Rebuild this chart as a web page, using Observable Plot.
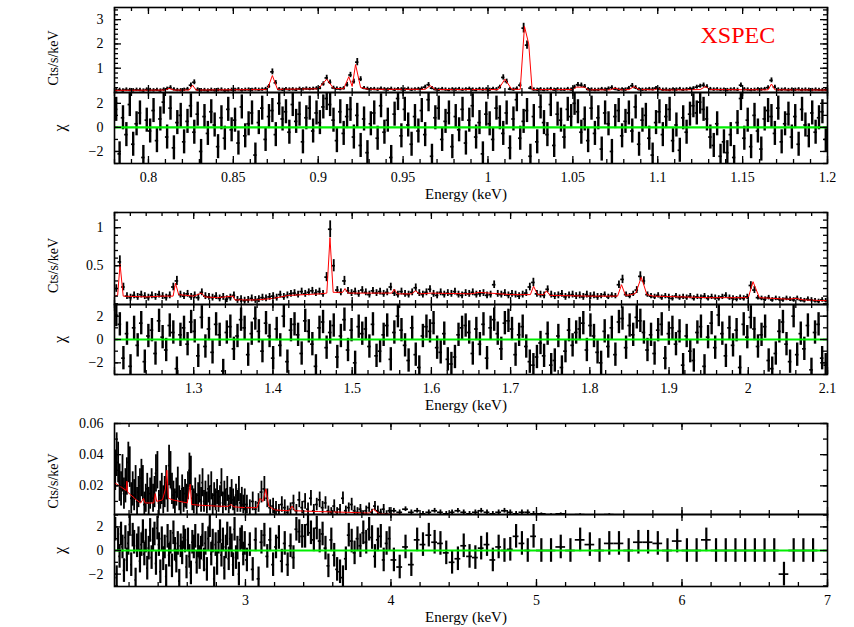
<!DOCTYPE html>
<html><head><meta charset="utf-8">
<script src="https://cdn.jsdelivr.net/npm/d3@7"></script>
<script src="https://cdn.jsdelivr.net/npm/@observablehq/plot@0.6"></script>
<style>
body{margin:0;background:#fff;}
#chart{position:relative;width:854px;height:627px;overflow:hidden;background:#fff;font-family:'Liberation Serif','Times New Roman',serif;}
#chart svg{position:absolute;left:0;}
</style></head><body><div id="chart"></div>
<script>
// ---------------- DATA ----------------
// Panel 1: 0.78–1.20 keV, bins of 0.002 keV
const p1Bin = {start: 0.78, width: 0.002};
const p1Counts = [
 .09,.11,.08,.12,.10,.09,.11,.10,.08,.12,
 .10,.09,.11,.08,.12,.15,.20,.13,.10,.09,
 .11,.14,.30,.42,.12,.09,.10,.08,.11,.09,
 .10,.12,.08,.09,.11,.10,.13,.09,.11,.12,
 .10,.13,.11,.12,.14,.25,.85,.40,.13,.11,
 .14,.12,.13,.11,.15,.13,.16,.14,.15,.17,
 .18,.35,.60,.42,.19,.16,.14,.17,.32,.72,
 .45,1.25,.55,.18,.15,.13,.14,.12,.16,.13,
 .12,.15,.11,.14,.13,.12,.15,.11,.13,.14,
 .16,.22,.32,.18,.13,.11,.14,.12,.10,.13,
 .12,.14,.11,.13,.15,.12,.10,.14,.12,.13,
 .11,.15,.13,.22,.62,.45,.14,.12,.16,.30,
 2.65,1.95,.18,.12,.11,.13,.10,.12,.14,.11,
 .13,.12,.11,.14,.12,.22,.32,.30,.25,.13,
 .12,.10,.11,.14,.12,.16,.20,.14,.11,.13,
 .12,.18,.28,.20,.13,.11,.12,.14,.13,.18,
 .14,.11,.12,.10,.13,.12,.14,.11,.13,.15,
 .17,.22,.26,.30,.24,.14,.12,.13,.11,.12,
 .10,.12,.13,.11,.30,.13,.12,.10,.11,.13,
 .12,.14,.20,.50,.22,.12,.11,.13,.10,.12,
 .11,.13,.10,.12,.11,.10,.12,.11,.10,.11];
const p1Err = [
 .07,.07,.07,.07,.07,.07,.07,.07,.07,.07,
 .07,.07,.07,.07,.07,.07,.08,.07,.07,.07,
 .07,.07,.09,.10,.07,.07,.07,.07,.07,.07,
 .07,.07,.07,.07,.07,.07,.07,.07,.07,.07,
 .07,.07,.07,.07,.07,.08,.12,.09,.07,.07,
 .07,.07,.07,.07,.07,.07,.07,.07,.07,.07,
 .07,.09,.11,.09,.07,.07,.07,.07,.09,.11,
 .10,.15,.10,.07,.07,.07,.07,.07,.07,.07,
 .07,.07,.07,.07,.07,.07,.07,.07,.07,.07,
 .07,.08,.09,.07,.07,.07,.07,.07,.07,.07,
 .07,.07,.07,.07,.07,.07,.07,.07,.07,.07,
 .07,.07,.07,.08,.11,.10,.07,.07,.07,.09,
 .20,.17,.07,.07,.07,.07,.07,.07,.07,.07,
 .07,.07,.07,.07,.07,.08,.09,.09,.08,.07,
 .07,.07,.07,.07,.07,.07,.08,.07,.07,.07,
 .07,.07,.09,.08,.07,.07,.07,.07,.07,.07,
 .07,.07,.07,.07,.07,.07,.07,.07,.07,.07,
 .07,.08,.08,.09,.08,.07,.07,.07,.07,.07,
 .07,.07,.07,.07,.09,.07,.07,.07,.07,.07,
 .07,.07,.08,.10,.08,.07,.07,.07,.07,.07,
 .07,.07,.07,.07,.07,.07,.07,.07,.07,.07];
const p1Chi = [
 1.5,-2.2,0.8,-0.6,1.9,-1.4,0.3,1.2,-2.5,0.6,
 -0.3,1.4,-1.1,0.7,2.1,-0.8,1.6,-1.7,0.4,1.0,
 -1.2,0.5,1.8,-0.4,1.1,-2.0,0.9,-0.5,1.3,0.2,
 -1.6,0.8,-0.9,1.5,-0.2,0.6,-1.3,1.7,-0.7,0.3,
 1.2,-2.3,0.4,1.6,-1.0,0.9,1.4,-0.6,2.0,0.7,
 1.3,-0.4,1.9,0.5,1.1,-1.2,0.8,1.6,-0.3,1.2,
 0.4,1.7,2.4,1.9,0.6,-1.1,1.3,-0.5,0.9,1.5,
 -0.8,1.0,-1.5,0.7,-2.1,0.3,1.2,-0.9,1.8,-0.4,
 0.6,-2.5,1.1,2.4,-0.7,1.5,0.2,-1.4,0.9,-0.3,
 1.4,-0.6,2.3,-2.4,0.8,1.6,-1.0,0.5,1.2,-1.6,
 0.9,-0.2,1.5,-1.3,0.6,1.8,-0.8,0.4,-2.2,1.1,
 0.3,-1.0,1.6,0.8,-0.5,1.2,-1.7,0.7,2.3,-0.9,
 0.5,1.4,-2.4,0.9,-1.2,1.7,0.4,-0.6,1.9,-1.5,
 1.1,0.6,-0.8,1.5,0.9,2.0,1.3,-0.4,0.7,-1.1,
 1.6,-0.5,0.8,-1.8,1.2,0.3,-2.0,0.9,1.4,-0.7,
 0.5,1.2,-0.3,1.7,-1.4,0.6,1.0,-0.9,-2.3,0.4,
 1.3,-0.6,0.9,1.5,-1.1,0.2,-1.9,0.8,-0.4,1.1,
 1.8,1.2,2.1,1.5,0.7,-0.8,-1.5,0.3,-2.4,-1.2,
 -2.1,-0.6,-2.5,0.4,2.4,-0.9,0.6,-1.6,1.0,-0.3,
 -1.8,0.7,1.4,0.9,-0.5,1.6,-1.2,0.3,1.1,-0.8,
 0.9,-1.4,1.5,0.2,-0.7,1.2,-0.4,0.8,1.3,-1.0];
const p1Model = [[0.78,0.09],[0.81,0.10],[0.812,0.17],[0.815,0.10],[0.824,0.10],[0.826,0.30],[0.828,0.10],
 [0.87,0.12],[0.873,0.70],[0.876,0.13],[0.90,0.15],[0.905,0.55],[0.909,0.17],[0.915,0.15],[0.918,0.65],
 [0.92,0.25],[0.922,1.15],[0.925,0.20],[0.93,0.13],[0.963,0.13],[0.966,0.28],[0.969,0.12],[1.006,0.12],
 [1.01,0.55],[1.014,0.13],[1.019,0.13],[1.0215,2.72],[1.024,2.0],[1.026,0.12],[1.05,0.12],[1.052,0.22],
 [1.057,0.22],[1.059,0.11],[1.072,0.11],[1.075,0.18],[1.078,0.11],[1.083,0.12],[1.086,0.24],[1.089,0.12],
 [1.098,0.11],[1.10,0.16],[1.103,0.10],[1.125,0.12],[1.128,0.24],[1.131,0.12],[1.165,0.11],[1.167,0.35],
 [1.169,0.11],[1.20,0.10]];

// Panel 2: 1.20–2.10 keV, bins of 0.0045 keV
const p2Bin = {start: 1.2, width: 0.0045};
const p2Counts = [
 .20,.55,.22,.10,.08,.11,.09,.12,.10,.08,
 .11,.09,.12,.10,.08,.11,.22,.30,.12,.10,
 .13,.09,.11,.08,.15,.10,.09,.08,.10,.07,
 .09,.06,.08,.11,.05,.06,.04,.05,.07,.05,
 .06,.08,.07,.09,.10,.08,.12,.09,.11,.13,
 .14,.12,.16,.13,.15,.17,.14,.16,.13,.35,
 .98,.50,.18,.15,.30,.17,.14,.16,.13,.18,
 .15,.12,.17,.14,.16,.13,.15,.22,.14,.12,
 .16,.13,.12,.15,.21,.14,.12,.15,.19,.13,
 .11,.15,.12,.14,.13,.16,.12,.11,.14,.13,
 .15,.12,.13,.14,.11,.12,.25,.13,.12,.14,
 .11,.13,.12,.10,.12,.14,.22,.28,.13,.12,
 .11,.19,.12,.10,.11,.13,.09,.11,.12,.10,
 .11,.09,.12,.10,.11,.09,.10,.12,.09,.11,
 .10,.25,.32,.12,.10,.13,.18,.36,.30,.12,
 .10,.09,.11,.08,.10,.09,.07,.10,.08,.09,
 .08,.10,.07,.09,.08,.10,.07,.09,.08,.07,
 .09,.11,.08,.07,.06,.08,.07,.09,.24,.18,
 .08,.07,.06,.08,.05,.07,.06,.05,.07,.06,
 .05,.07,.05,.04,.06,.05,.04,.03,.05,.04];
const p2Err = [
 .05,.08,.05,.045,.045,.045,.045,.045,.045,.045,
 .045,.045,.045,.045,.045,.045,.05,.06,.045,.045,
 .045,.045,.045,.045,.045,.045,.045,.045,.045,.045,
 .045,.045,.045,.045,.045,.045,.045,.045,.045,.045,
 .045,.045,.045,.045,.045,.045,.045,.045,.045,.045,
 .045,.045,.045,.045,.045,.045,.045,.045,.045,.06,
 .11,.08,.045,.045,.06,.045,.045,.045,.045,.045,
 .045,.045,.045,.045,.045,.045,.045,.05,.045,.045,
 .045,.045,.045,.045,.05,.045,.045,.045,.045,.045,
 .045,.045,.045,.045,.045,.045,.045,.045,.045,.045,
 .045,.045,.045,.045,.045,.045,.05,.045,.045,.045,
 .045,.045,.045,.045,.045,.045,.05,.055,.045,.045,
 .045,.045,.045,.045,.045,.045,.045,.045,.045,.045,
 .045,.045,.045,.045,.045,.045,.035,.035,.035,.035,
 .035,.05,.055,.035,.035,.035,.045,.06,.055,.035,
 .035,.035,.035,.035,.035,.035,.035,.035,.035,.035,
 .035,.035,.035,.035,.035,.035,.035,.035,.035,.035,
 .035,.035,.035,.035,.035,.035,.035,.035,.05,.045,
 .03,.03,.03,.03,.03,.03,.03,.03,.03,.03,
 .03,.03,.03,.03,.03,.03,.03,.03,.03,.03];
const p2Chi = [
 2.1,1.3,-1.6,0.5,-2.3,1.0,-0.5,1.4,-1.9,0.3,
 0.8,-1.2,1.6,0.2,-0.9,1.2,0.6,-2.5,0.4,1.0,
 -0.4,1.5,0.7,-1.4,1.9,-0.6,0.9,-1.1,1.3,0.4,
 -2.7,0.6,1.1,-0.8,0.3,1.7,1.0,-1.3,0.5,1.8,
 0.7,-1.0,1.4,0.3,-1.6,0.9,-0.5,2.0,-1.9,0.8,
 1.3,0.4,-1.2,1.6,0.7,-0.4,-2.3,1.0,1.5,-0.7,
 0.6,1.2,-1.5,0.3,1.7,-0.9,0.8,-2.0,1.1,0.5,
 0.9,-0.6,1.3,-1.4,-1.0,0.4,1.2,-1.7,0.6,2.0,
 0.8,-0.5,-1.8,1.0,-1.3,-2.4,0.3,1.1,0.7,1.4,
 -0.7,-1.1,0.5,-1.7,-2.1,-1.5,0.4,1.0,1.2,0.6,
 -1.2,0.9,-0.4,1.3,-1.6,1.0,1.7,0.5,-0.8,1.4,
 1.6,0.9,-1.3,0.4,1.1,-0.6,-1.9,-2.2,-1.5,-0.3,
 -1.4,0.5,-2.2,-1.8,0.3,-2.4,-1.0,0.8,-0.5,0.6,
 0.9,1.4,-0.9,1.2,0.3,-1.1,-2.0,0.7,-0.6,1.0,
 -1.3,1.5,1.8,-0.7,1.2,0.4,1.9,1.6,0.6,-0.9,
 0.4,-1.2,0.8,1.3,-1.6,0.5,1.0,-0.4,0.7,-2.2,
 0.3,-1.0,-1.8,0.6,1.1,-2.3,0.2,1.4,-0.7,2.1,
 0.5,-1.4,1.0,-0.5,0.8,-2.4,1.3,0.2,1.9,0.9,
 -0.6,0.4,1.1,-1.8,-2.5,-1.2,0.7,1.5,-0.4,-1.9,
 2.0,-1.3,0.5,-0.8,1.2,-2.6,0.6,1.3,-1.6,-2.2];
const p2Model = [[1.2,0.10],[1.204,0.11],[1.207,0.52],[1.211,0.10],[1.24,0.09],[1.26,0.10],[1.274,0.10],
 [1.277,0.27],[1.281,0.12],[1.30,0.10],[1.31,0.14],[1.314,0.09],[1.33,0.08],[1.35,0.10],[1.352,0.05],
 [1.38,0.05],[1.40,0.07],[1.42,0.11],[1.44,0.12],[1.46,0.13],[1.468,0.14],[1.472,0.87],[1.476,0.15],
 [1.488,0.15],[1.491,0.20],[1.495,0.14],[1.55,0.14],[1.553,0.19],[1.557,0.13],[1.575,0.13],[1.58,0.17],
 [1.585,0.13],[1.60,0.14],[1.65,0.13],[1.66,0.15],[1.70,0.12],[1.725,0.12],[1.729,0.23],[1.734,0.12],
 [1.742,0.12],[1.745,0.17],[1.75,0.11],[1.80,0.10],[1.835,0.10],[1.84,0.25],[1.845,0.11],[1.853,0.12],
 [1.858,0.14],[1.865,0.35],[1.872,0.12],[1.88,0.10],[1.95,0.08],[2.0,0.08],[2.006,0.29],[2.014,0.08],
 [2.05,0.06],[2.06,0.07],[2.07,0.05],[2.10,0.04]];

// Panel 3: 2.1–7 keV, grouped bins
const p3Segments = [
 {from: 2.1, width: 0.01, n: 90},
 {from: 3.0, width: 0.02, n: 50},
 {from: 4.0, width: 0.04, n: 25},
 {from: 5.0, width: 0.0667, n: 29}];
const p3Counts = [
 .030,.040,.035,.022,.018,.028,.015,.020,.026,.035,
 .032,.012,.018,.014,.022,.010,.016,.020,.025,.022,
 .008,.012,.018,.010,.015,.020,.012,.016,.028,.030,
 .009,.014,.018,.011,.016,.022,.012,.033,.030,.018,
 .014,.010,.016,.022,.012,.009,.018,.011,.015,.013,
 .020,.030,.028,.012,.010,.016,.008,.014,.018,.011,
 .022,.010,.015,.009,.018,.012,.020,.008,.014,.011,
 .016,.010,.013,.022,.009,.015,.011,.018,.008,.012,
 .016,.011,.007,.014,.010,.018,.009,.012,.008,.011,
 .008,.006,.010,.005,.009,.016,.018,.012,.006,.007,
 .005,.004,.008,.006,.003,.005,.009,.004,.011,.006,
 .010,.005,.012,.004,.008,.011,.006,.009,.004,.003,
 .007,.003,.005,.012,.004,.006,.008,.004,.003,.005,
 .002,.004,.006,.003,.007,.004,.003,.005,.002,.004,
 .004,.003,.005,.003,.004,.002,.003,.004,.003,.002,
 .003,.004,.003,.002,.003,.004,.003,.002,.003,.004,
 .003,.002,.003,.003,.002,
 .002,.0015,.002,.001,.0015,.001,.001,.0015,.001,.001,
 .001,.001,.001,.001,.001,.001,.001,.001,.001,.001,
 .001,.001,.001,.001,.001,.001,.001,.001,.001];
const p3Err = [
 .013,.014,.013,.012,.011,.012,.010,.011,.012,.013,
 .013,.010,.011,.010,.011,.009,.010,.011,.012,.011,
 .008,.009,.010,.009,.010,.011,.009,.010,.012,.012,
 .008,.009,.010,.009,.010,.011,.009,.013,.012,.010,
 .009,.008,.009,.010,.008,.008,.009,.008,.009,.008,
 .009,.011,.011,.008,.008,.009,.007,.008,.009,.008,
 .009,.007,.008,.007,.009,.008,.009,.007,.008,.007,
 .008,.007,.007,.009,.007,.008,.007,.008,.006,.007,
 .008,.007,.006,.007,.007,.008,.006,.007,.006,.007,
 .006,.005,.006,.005,.006,.007,.008,.006,.005,.005,
 .005,.004,.005,.005,.004,.004,.005,.004,.005,.004,
 .005,.004,.005,.004,.004,.005,.004,.004,.003,.003,
 .004,.003,.003,.004,.003,.003,.004,.003,.003,.003,
 .002,.003,.003,.002,.003,.003,.002,.003,.002,.002,
 .0015,.0015,.0015,.0015,.0015,.0015,.0015,.0015,.0015,.0015,
 .0015,.0015,.0015,.0015,.0015,.0015,.0015,.0015,.0015,.0015,
 .0015,.0015,.0015,.0015,.0015,
 .0006,.0006,.0006,.0006,.0006,.0006,.0006,.0006,.0006,.0006,
 .0006,.0006,.0006,.0006,.0006,.0006,.0006,.0006,.0006,.0006,
 .0006,.0006,.0006,.0006,.0006,.0006,.0006,.0006,.0006];
const p3Chi = [
 1.8,-2.3,0.9,-0.5,1.4,0.3,-1.7,1.1,-0.8,0.6,
 2.2,-1.2,1.3,0.7,-2.5,0.4,1.0,-0.9,0.5,1.6,
 -0.3,0.8,-1.5,0.2,1.7,-0.6,0.9,1.4,-1.1,1.9,
 0.5,-1.8,1.0,-0.7,0.3,-2.2,1.2,-0.4,0.7,-1.3,
 1.5,0.1,-0.9,0.6,-2.6,0.4,-0.2,1.1,0.8,-1.4,
 0.9,-0.5,-1.9,0.7,0.3,1.2,-1.0,0.4,-0.6,0.2,
 1.3,-0.8,0.6,-1.6,1.0,2.1,-0.3,0.8,-2.4,0.5,
 -1.1,0.7,1.6,-0.4,0.9,-1.5,0.3,1.4,-0.7,1.0,
 0.4,-1.2,1.8,-0.6,0.2,-2.0,0.9,1.1,-0.3,0.6,
 -0.8,0.5,-1.6,0.9,-2.4,0.7,1.3,-0.5,0.9,-1.2,
 0.3,1.1,-0.9,0.6,-1.2,0.4,-0.6,1.8,1.6,1.2,
 1.2,2.2,1.5,0.9,1.9,0.8,1.4,0.2,-1.3,0.9,
 -0.4,-1.6,-1.8,-2.3,-0.7,1.3,0.8,-0.2,1.0,0.4,
 1.5,0.7,1.8,1.1,-0.5,0.9,1.2,-0.8,0.6,1.0,
 -0.8,-1.4,0.3,-1.2,0.9,0.5,1.3,0.7,0.6,-0.2,
 -1.0,-0.7,0.4,-0.5,-0.6,0.2,0.5,-0.8,0.3,0.0,
 0.1,1.2,0.6,0.0,1.2,
 0,0,0.3,0,0.9,0.5,0,0.6,0.6,0,
 0.7,0.7,0.6,0,0.8,0,0,0.9,0,0,
 0,0,0,0,0,-2.0,0,0,0];
const p3Model = [[2.1,0.022],[2.15,0.019],[2.18,0.017],[2.185,0.023],[2.19,0.016],[2.25,0.011],[2.28,0.009],
 [2.30,0.012],[2.31,0.009],[2.37,0.009],[2.38,0.015],[2.39,0.010],[2.43,0.011],[2.45,0.018],[2.46,0.030],
 [2.47,0.012],[2.50,0.011],[2.55,0.010],[2.60,0.009],[2.62,0.021],[2.63,0.008],[2.70,0.0075],[2.80,0.007],
 [2.88,0.0068],[2.90,0.008],[2.92,0.0065],[3.0,0.006],[3.08,0.006],[3.10,0.012],[3.12,0.010],[3.14,0.018],
 [3.16,0.007],[3.20,0.0045],[3.30,0.004],[3.32,0.007],[3.34,0.004],[3.50,0.0035],[3.70,0.003],[3.85,0.0025],
 [3.88,0.005],[3.92,0.002],[4.0,0.0018],[4.3,0.0012],[5.0,0.0008],[7.0,0.0003]];

// Tick labels
const p1XTicks = [0.8,0.85,0.9,0.95,1,1.05,1.1,1.15,1.2];
const p2XTicks = [1.3,1.4,1.5,1.6,1.7,1.8,1.9,2,2.1];
const p3XTicks = [3,4,5,6,7];
const p1YTicks = [1,2,3];
const p2YTicks = [0.5,1];
const p3YTicks = [0.02,0.04,0.06];
const chiTicks = [-2,0,2];

// ---------------- BUILD ----------------
const W = 854, ML = 114, MR = 27;
const FONT = "Liberation Serif";
const FW = W - ML - MR;

function uniformBins(b, counts, err, chi) {
  return counts.map((v, i) => {
    const e0 = b.start + i * b.width, e1 = e0 + b.width;
    return {e0, e1, e: (e0 + e1) / 2, v, err: err[i], c: chi[i]};
  });
}
function segmentBins(segs, counts, err, chi) {
  const out = [];
  for (const s of segs) for (let i = 0; i < s.n; i++) {
    const e0 = s.from + i * s.width, e1 = e0 + s.width, k = out.length;
    out.push({e0, e1, e: (e0 + e1) / 2, v: counts[k], err: err[k], c: chi[k]});
  }
  return out;
}
function steps(a, b, s) {
  return d3.range(Math.ceil(a / s - 1e-6), Math.floor(b / s + 1e-6) + 1).map(k => +(k * s).toFixed(5));
}
const fmt = d => { const s = String(+(+d).toFixed(4)); return d < 0 ? "\u2212" + s.slice(1) : s; };

function subplot(o) {
  const mt = 3, mb = o.bottomAxis ? 45 : 3;
  const h = o.y1 - o.y0, H = h + mt + mb;
  const tk = {stroke: "black", strokeWidth: 1.3};
  const xMin = steps(o.xd[0], o.xd[1], o.xMinorStep);
  const xMaj = steps(o.xd[0], o.xd[1], o.xMajorStep);
  const yMin = steps(o.yd[0], o.yd[1], o.yMinorStep);
  const yMaj = o.yTicks;
  const txt = {fontFamily: FONT, fill: "black"};
  const marks = [
    ...o.marks,
    Plot.tickX(xMin, {x: d => d, insetTop: h - 4, ...tk}),
    Plot.tickX(xMin, {x: d => d, insetBottom: h - 4, ...tk}),
    Plot.tickX(xMaj, {x: d => d, insetTop: h - 7, ...tk}),
    Plot.tickX(xMaj, {x: d => d, insetBottom: h - 7, ...tk}),
    Plot.tickY(yMin, {y: d => d, insetLeft: FW - 4, ...tk}),
    Plot.tickY(yMin, {y: d => d, insetRight: FW - 4, ...tk}),
    Plot.tickY(yMaj, {y: d => d, insetLeft: FW - 7, ...tk}),
    Plot.tickY(yMaj, {y: d => d, insetRight: FW - 7, ...tk}),
    Plot.frame({stroke: "black", strokeWidth: 1.6}),
    Plot.axisY(yMaj, {anchor: "left", tickSize: 0, tickPadding: 11, tickFormat: fmt, label: null, fontSize: 14, ...txt}),
    Plot.text([o.yLabel], {frameAnchor: "left", dx: o.labelDx, dy: o.labelDy || 0, rotate: -90,
      textAnchor: "middle", lineAnchor: "middle", text: d => d, fontSize: o.labelSize || 14, ...txt})
  ];
  if (o.bottomAxis) {
    marks.push(Plot.axisX(o.xTicks, {anchor: "bottom", tickSize: 0, tickPadding: 9, tickFormat: fmt, label: null, fontSize: 14, ...txt}));
    marks.push(Plot.text(["Energy (keV)"], {frameAnchor: "bottom", dx: -5, dy: 31, textAnchor: "middle", lineAnchor: "middle",
      text: d => d, fontSize: 15, ...txt}));
  }
  if (o.extra) marks.push(...o.extra);
  const svg = Plot.plot({
    width: W, height: H,
    marginLeft: ML, marginRight: MR, marginTop: mt, marginBottom: mb,
    x: {domain: o.xd, axis: null},
    y: {domain: o.yd, axis: null},
    style: {background: "transparent", overflow: "visible", fontFamily: FONT, fontSize: "14px", color: "black"},
    marks
  });
  svg.style.top = (o.y0 - mt) + "px";
  document.getElementById("chart").appendChild(svg);
}

function countMarks(pts, model) {
  return [
    Plot.ruleX(pts, {x: "e", y1: d => d.v - d.err, y2: d => d.v + d.err, stroke: "black", strokeWidth: 1.8, clip: true}),
    Plot.ruleY(pts, {y: "v", x1: "e0", x2: "e1", stroke: "black", strokeWidth: 1.7, clip: true}),
    Plot.line(model, {x: d => d[0], y: d => d[1], stroke: "#ff0000", strokeWidth: 1, clip: true})
  ];
}
function chiMarks(pts, w) {
  return [
    Plot.ruleX(pts, {x: "e", y1: d => d.c - 1, y2: d => d.c + 1, stroke: "black", strokeWidth: w, clip: true}),
    Plot.ruleY(pts, {y: "c", x1: "e0", x2: "e1", stroke: "black", strokeWidth: 1.7, clip: true}),
    Plot.ruleY([0], {stroke: "#00ee00", strokeWidth: 2.2})
  ];
}

const p1 = uniformBins(p1Bin, p1Counts, p1Err, p1Chi);
const p2 = uniformBins(p2Bin, p2Counts, p2Err, p2Chi);
const p3 = segmentBins(p3Segments, p3Counts, p3Err, p3Chi);

// Panel 1
subplot({y0: 7, y1: 92, xd: [0.78, 1.2], yd: [0, 3.5], xMinorStep: 0.01, xMajorStep: 0.05,
  yMinorStep: 0.2, yTicks: p1YTicks, yLabel: "Cts/s/keV", labelDx: -61, labelDy: 8,
  marks: countMarks(p1, p1Model),
  extra: [Plot.text(["XSPEC"], {frameAnchor: "top-left", dx: 586, dy: 28, textAnchor: "start", lineAnchor: "middle",
    text: d => d, fill: "#ff0000", fontSize: 24, fontFamily: FONT})]});
subplot({y0: 92, y1: 163, xd: [0.78, 1.2], yd: [-3, 2.9], xMinorStep: 0.01, xMajorStep: 0.05,
  yMinorStep: 1, yTicks: chiTicks, yLabel: "\u03c7", labelDx: -55, labelSize: 16,
  marks: chiMarks(p1, 2.4), bottomAxis: true, xTicks: p1XTicks});
// Panel 2
subplot({y0: 212, y1: 304, xd: [1.2, 2.1], yd: [-0.01, 1.2], xMinorStep: 0.02, xMajorStep: 0.1,
  yMinorStep: 0.1, yTicks: p2YTicks, yLabel: "Cts/s/keV", labelDx: -61, labelDy: 7,
  marks: countMarks(p2, p2Model)});
subplot({y0: 304, y1: 374, xd: [1.2, 2.1], yd: [-3, 3], xMinorStep: 0.02, xMajorStep: 0.1,
  yMinorStep: 1, yTicks: chiTicks, yLabel: "\u03c7", labelDx: -55, labelSize: 16,
  marks: chiMarks(p2, 2.4), bottomAxis: true, xTicks: p2XTicks});
// Panel 3
subplot({y0: 423, y1: 514, xd: [2.1, 7], yd: [0.0016, 0.06], xMinorStep: 0.2, xMajorStep: 1,
  yMinorStep: 0.01, yTicks: p3YTicks, yLabel: "Cts/s/keV", labelDx: -61, labelDy: 12,
  marks: countMarks(p3, p3Model)});
subplot({y0: 514, y1: 586, xd: [2.1, 7], yd: [-3.05, 3.05], xMinorStep: 0.2, xMajorStep: 1,
  yMinorStep: 1, yTicks: chiTicks, yLabel: "\u03c7", labelDx: -55, labelSize: 16,
  marks: chiMarks(p3, 2.2), bottomAxis: true, xTicks: p3XTicks});
</script></body></html>
